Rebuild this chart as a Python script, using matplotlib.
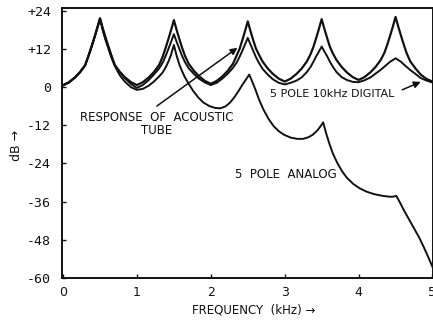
import matplotlib
matplotlib.use("Agg")
import matplotlib.pyplot as plt

# frequency grid (kHz) used by the acoustic tube and the digital filter curves
freq_khz = [
    0.00, 0.08, 0.16, 0.23, 0.30, 0.35, 0.39, 0.425, 0.46, 0.50, 0.54, 0.575, 0.61, 0.65, 0.70, 0.77, 0.84, 0.92,
    1.00, 1.08, 1.16, 1.23, 1.30, 1.35, 1.39, 1.425, 1.46, 1.50, 1.54, 1.575, 1.61, 1.65, 1.70, 1.77, 1.84, 1.92,
    2.00, 2.08, 2.16, 2.23, 2.30, 2.35, 2.39, 2.425, 2.46, 2.50, 2.54, 2.575, 2.61, 2.65, 2.70, 2.77, 2.84, 2.92,
    3.00, 3.08, 3.16, 3.23, 3.30, 3.35, 3.39, 3.425, 3.46, 3.50, 3.54, 3.575, 3.61, 3.65, 3.70, 3.77, 3.84, 3.92,
    4.00, 4.08, 4.16, 4.23, 4.30, 4.35, 4.39, 4.425, 4.46, 4.50, 4.54, 4.575, 4.61, 4.65, 4.70, 4.77, 4.84, 4.92,
    5.00,
]

tube_db = [
    0.6, 1.5, 3.0, 4.7, 6.9, 10.2, 13.0, 15.6, 18.3, 21.6, 18.3, 15.6, 13.0, 10.2, 6.9, 4.7, 3.0, 1.5,
    0.6, 1.5, 3.0, 4.7, 6.9, 9.6, 12.4, 15.0, 17.7, 21.0, 17.7, 15.0, 12.4, 9.8, 7.3, 5.1, 3.4, 1.9,
    1.0, 1.9, 3.4, 5.1, 7.3, 9.9, 12.0, 14.6, 17.3, 20.6, 17.3, 14.6, 12.1, 10.2, 8.0, 5.8, 4.1, 2.6,
    1.7, 2.6, 4.1, 5.8, 8.0, 10.3, 12.7, 15.3, 18.0, 21.3, 18.0, 15.3, 12.7, 10.6, 8.5, 6.3, 4.6, 3.1,
    2.2, 3.1, 4.6, 6.3, 8.5, 10.8, 13.4, 16.0, 18.7, 22.0, 18.7, 16.0, 13.4, 10.6, 8.0, 5.8, 3.9, 2.5,
    1.7,
]

digital_db = [
    0.5, 1.4, 2.9, 4.6, 6.8, 10.1, 12.9, 15.5, 18.2, 21.4, 17.8, 15.0, 12.8, 10.0, 6.9, 4.6, 2.7, 0.9,
    -0.3, 0.6, 2.2, 3.9, 5.8, 7.7, 9.8, 11.9, 14.0, 16.6, 14.0, 11.9, 9.8, 7.8, 5.9, 4.1, 2.6, 1.4,
    0.6, 1.3, 2.7, 4.2, 6.0, 7.7, 9.5, 11.3, 13.2, 15.4, 13.2, 11.3, 9.4, 7.6, 5.7, 3.9, 2.4, 1.3,
    0.8, 1.3, 2.0, 3.0, 4.7, 6.3, 8.0, 9.6, 11.0, 12.7, 11.0, 9.6, 8.0, 6.4, 4.7, 3.1, 2.2, 1.6,
    1.5, 2.1, 3.0, 4.2, 5.4, 6.4, 7.2, 7.9, 8.4, 9.0, 8.4, 7.9, 7.1, 6.3, 5.3, 4.1, 2.8, 2.0,
    1.4,
]

# 5 pole analog curve has its own breakpoints
analog_khz = [
    0.00, 0.08, 0.16, 0.23, 0.30, 0.35, 0.39, 0.425, 0.46, 0.50, 0.54, 0.575, 0.61, 0.65, 0.70, 0.77, 0.84, 0.92,
    1.00, 1.08, 1.16, 1.23, 1.30, 1.35, 1.39, 1.425, 1.46, 1.50, 1.54, 1.575, 1.61, 1.65, 1.70, 1.76, 1.83, 1.90,
    1.98, 2.06, 2.13, 2.20, 2.26, 2.32, 2.38, 2.43, 2.48, 2.52, 2.56, 2.60, 2.65, 2.71, 2.78, 2.85, 2.92, 2.99,
    3.08, 3.17, 3.25, 3.32, 3.38, 3.44, 3.49, 3.52, 3.56, 3.60, 3.65, 3.71, 3.78, 3.84, 3.93, 4.02, 4.11, 4.20,
    4.30, 4.39, 4.46, 4.51, 4.56, 4.61, 4.68, 4.75, 4.82, 4.88, 4.94, 5.00,
]
analog_db = [
    0.5, 1.4, 2.9, 4.6, 6.8, 10.1, 12.9, 15.5, 18.2, 21.4, 17.6, 14.8, 12.3, 9.5, 6.6, 3.6, 1.6, -0.1,
    -0.9, -0.6, 0.4, 1.7, 3.3, 4.6, 6.2, 7.9, 10.0, 13.2, 9.6, 7.0, 5.0, 3.0, 1.0, -1.2, -3.3, -4.9,
    -6.0, -6.6, -6.7, -6.1, -4.9, -3.2, -1.1, 0.8, 2.5, 3.9, 1.7, -0.6, -3.8, -7.0, -10.0, -12.3, -13.9, -15.0,
    -15.9, -16.3, -16.3, -15.8, -15.0, -13.7, -12.2, -11.1, -14.5, -17.5, -20.8, -23.8, -26.6, -28.5, -30.5, -31.9, -32.9, -33.6,
    -34.1, -34.4, -34.5, -34.2, -36.3, -38.6, -41.5, -44.4, -47.3, -50.2, -53.3, -56.5,
]

y_ticks = [24, 12, 0, -12, -24, -36, -48, -60]
y_labels = ["+24", "+12", "0", "-12", "-24", "-36", "-48", "-60"]
x_ticks = [0, 1, 2, 3, 4, 5]

ink = "#111111"

fig = plt.figure(figsize=(4.33, 3.24), dpi=100)
ax = fig.add_axes([62 / 433, 1 - 278 / 324, 370.5 / 433, 270 / 324])

ax.plot(freq_khz, tube_db, color=ink, lw=1.6)
ax.plot(freq_khz, digital_db, color=ink, lw=1.4)
ax.plot(analog_khz, analog_db, color=ink, lw=1.4)

ax.set_xlim(-0.014, 5.0)
ax.set_ylim(-60, 24.8)

ax.set_xticks(x_ticks)
ax.set_xticklabels([str(t) for t in x_ticks], fontsize=9)
ax.set_yticks(y_ticks)
ax.set_yticklabels(y_labels, fontsize=9.5, family="DejaVu Sans Mono")
ax.tick_params(direction="in", length=3, width=1, colors=ink, pad=8)
ax.tick_params(axis="x", pad=6)

for side in ["left", "bottom", "top", "right"]:
    ax.spines[side].set_linewidth(1.4)
    ax.spines[side].set_color(ink)

# labels
fig.text(254 / 433, 1 - 310 / 324, "FREQUENCY  (kHz) \u2192", ha="center", va="center",
         fontsize=8.5, color=ink)
fig.text(16 / 433, 1 - 145 / 324, "dB \u2192", rotation=90, ha="center", va="center",
         fontsize=9, color=ink)

arrow = dict(arrowstyle="-|>", color=ink, lw=1.1, mutation_scale=10, shrinkA=0, shrinkB=0)

ax.text(1.27, -11.6, "RESPONSE  OF  ACOUSTIC\nTUBE", ha="center", va="center",
        fontsize=8.5, color=ink, linespacing=1.0)
ax.annotate("", xy=(2.36, 12.3), xytext=(1.27, -6.0), arrowprops=arrow)

ax.text(3.64, -2.2, "5 POLE 10kHz DIGITAL", ha="center", va="center",
        fontsize=8, color=ink)
ax.annotate("", xy=(4.84, 1.6), xytext=(4.59, -0.9), arrowprops=arrow)

ax.text(3.01, -27.6, "5  POLE  ANALOG", ha="center", va="center",
        fontsize=8.5, color=ink)

plt.savefig("out.png", dpi=100)
